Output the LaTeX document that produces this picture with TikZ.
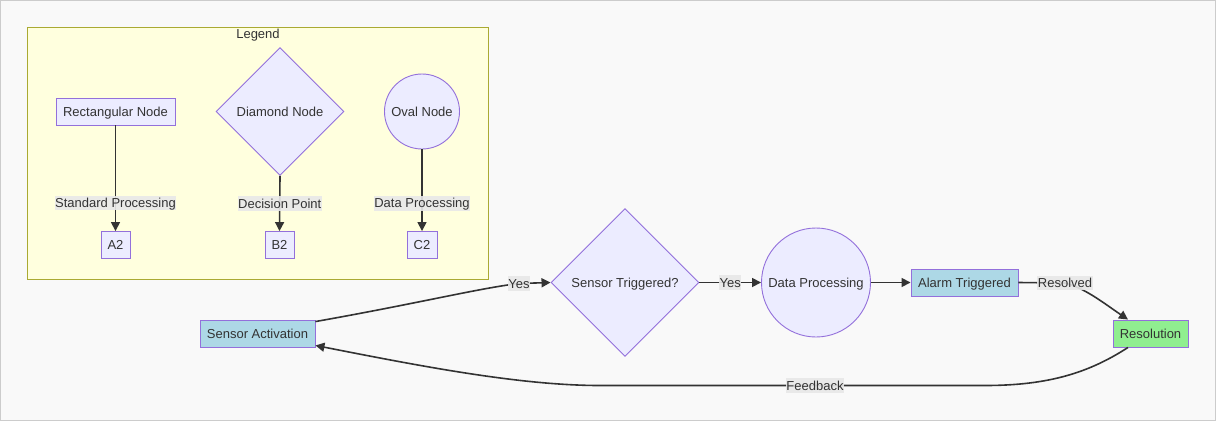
\documentclass[tikz,border=0pt]{standalone}
\usepackage{fontspec}
\setmainfont{Liberation Sans}
\usetikzlibrary{shapes.geometric,arrows.meta,calc}
\definecolor{bgc}{HTML}{F9F9F9}
\definecolor{framec}{HTML}{CCCCCC}
\definecolor{legfill}{HTML}{FFFFDE}
\definecolor{legdraw}{HTML}{AAAA33}
\definecolor{nodefill}{HTML}{ECECFF}
\definecolor{nodedraw}{HTML}{9370DB}
\definecolor{txt}{HTML}{333333}
\definecolor{lblbg}{HTML}{E8E8E8}
\definecolor{lblue}{HTML}{ADD8E6}
\definecolor{lgreen}{HTML}{90EE90}
\tikzset{
  base/.style={font=\fontsize{13}{15}\selectfont, text=txt, inner sep=0pt, text height=11.8pt, text depth=2.6pt},
  box/.style={base, draw=nodedraw, fill=nodefill, line width=0.9pt, minimum height=27pt},
  dia/.style={base, diamond, draw=nodedraw, fill=nodefill, line width=0.9pt, aspect=1},
  circ/.style={base, circle, draw=nodedraw, fill=nodefill, line width=0.9pt},
  lbl/.style={base, fill=lblbg, fill opacity=0.9, text opacity=1, inner xsep=0.5pt, inner ysep=0pt},
  edge/.style={draw=txt, line width=1.6pt, -{Triangle[length=9pt,width=9pt]}},
}
\begin{document}
\begin{tikzpicture}[x=1pt,y=-1pt]
\path[fill=bgc, draw=framec, line width=0.8pt] (0.5,0.5) rectangle (1215.5,420.5);
\useasboundingbox (0,0) rectangle (1216,421);
% legend
\path[fill=legfill, draw=legdraw, line width=0.9pt] (27.5,27.5) rectangle (488.5,279.5);
\node[base] (legend) at (258,34) {Legend};
\node[box, minimum width=119pt] (rect) at (115.5,111.5) {Rectangular Node};
\node[dia, minimum width=128pt, minimum height=128pt] (dnode) at (280,111.5) {Diamond Node};
\node[circ, minimum size=75pt] (onode) at (422,111.5) {Oval Node};
\node[box, minimum width=29pt] (a2) at (115.5,245) {A2};
\node[box, minimum width=29pt] (b2) at (279.5,245) {B2};
\node[box, minimum width=30pt] (c2) at (422,245) {C2};
\draw[edge] (rect.south) -- (a2.north) node[lbl, pos=0.736] {Standard Processing};
\draw[edge] (dnode.south) -- (b2.north) node[lbl, pos=0.5] {Decision Point};
\draw[edge] (onode.south) -- (c2.north) node[lbl, pos=0.66] {Data Processing};
% main flow
\node[box, fill=lblue, minimum width=115pt] (sa) at (257.5,333.5) {Sensor Activation};
\node[dia, minimum width=148pt, minimum height=148pt] (st) at (625,282.5) {Sensor Triggered?};
\node[circ, minimum size=109pt] (dp) at (816,282.5) {Data Processing};
\node[box, fill=lblue, minimum width=107pt] (al) at (964.5,282.5) {Alarm Triggered};
\node[box, fill=lgreen, minimum width=75pt] (res) at (1150.5,333.5) {Resolution};
\coordinate (y1) at (519,283.5);
\coordinate (rv) at (1065,283);
\coordinate (fb1) at (985,385.5);
\coordinate (fb2) at (600,385.5);
\draw[edge] ([yshift=-2pt]sa.north east) .. controls (420,303) and (480,288) .. (y1) -- (st.west);
\node[lbl] at (y1) {Yes};
\draw[edge] (st.east) -- (dp.west) node[lbl, pos=0.5] {Yes};
\draw[edge] (dp.east) -- (al.west);
\draw[edge] (al.east) -- (rv) .. controls (1085,288) and (1105,304) .. ([xshift=-22.5pt]res.north);
\node[lbl] at (rv) {Resolved};
\draw[edge] ([xshift=-22.5pt]res.south) .. controls (1090,372) and (1050,385.5) .. (fb1) -- (fb2) .. controls (520,385.5) and (420,366) .. ([yshift=2pt]sa.south east);
\node[lbl] at (815,385.5) {Feedback};
\end{tikzpicture}
\end{document}
